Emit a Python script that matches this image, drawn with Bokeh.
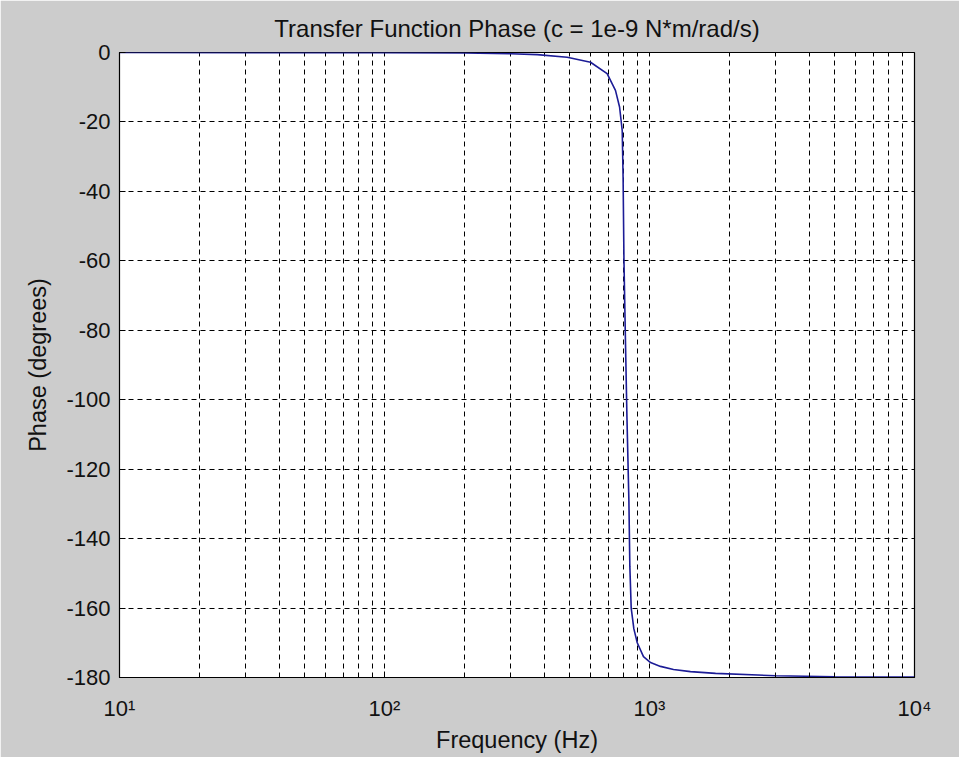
from bokeh.plotting import figure
from bokeh.models import Range1d, FixedTicker
from bokeh.embed import file_html
from bokeh.resources import INLINE

# --- data ---
freq_hz = [10, 100, 200, 300, 377, 489, 599, 692, 744, 771, 789, 795, 801, 810,
           822, 836, 843, 853, 873, 899, 949, 1009, 1100, 1232, 1428, 1775, 2990,
           5000, 10000]
phase_deg = [0, -0.05, -0.15, -0.35, -0.6, -1.35, -2.8, -6.1, -10.9, -15.7, -22.5,
             -36, -60, -80, -105, -129, -148, -160, -166, -170, -174, -175.7,
             -176.8, -177.7, -178.3, -178.8, -179.5, -179.8, -179.9]

x_major_ticks = [10, 100, 1000, 10000]
x_tick_labels = ["10\u00b9", "10\u00b2", "10\u00b3", "10\u2074"]
x_minor_ticks = [20, 30, 40, 50, 60, 70, 80, 90,
                 200, 300, 400, 500, 600, 700, 800, 900,
                 2000, 3000, 4000, 5000, 6000, 7000, 8000, 9000]
y_ticks = [-180, -160, -140, -120, -100, -80, -60, -40, -20, 0]
y_tick_labels = ["-180", "-160", "-140", "-120", "-100", "-80", "-60", "-40", "-20", "0"]

title_text = "Transfer Function Phase (c = 1e-9 N*m/rad/s)"
x_label = "Frequency (Hz)"
y_label = "Phase (degrees)"

FONT = "Liberation Sans"
GRAY = "#cccccc"
INK = "#111111"

p = figure(width=959, height=757, x_axis_type="log",
           x_range=Range1d(10, 10000), y_range=Range1d(-180, 0),
           output_backend="svg", toolbar_location=None,
           min_border_left=119, min_border_right=45,
           min_border_top=52, min_border_bottom=80,
           background_fill_color="white", border_fill_color=GRAY)

p.title.text = title_text
p.title.text_font = FONT
p.title.text_font_size = "24px"
p.title.text_font_style = "normal"
p.title.text_color = INK
p.title.align = "center"
p.title.standoff = 21

p.outline_line_color = "black"
p.outline_line_width = 1.2
p.outline_line_alpha = 1.0

# axes
p.xaxis.ticker = FixedTicker(ticks=x_major_ticks, minor_ticks=x_minor_ticks)
p.yaxis.ticker = FixedTicker(ticks=y_ticks)
for ax in (p.xaxis[0], p.yaxis[0]):
    ax.axis_line_color = "black"
    ax.major_tick_in = 6
    ax.major_tick_out = 0
    ax.major_tick_line_color = "black"
    ax.minor_tick_in = 3
    ax.minor_tick_out = 0
    ax.axis_label_text_font = FONT
    ax.axis_label_text_font_size = "23.5px"
    ax.axis_label_text_font_style = "normal"
    ax.axis_label_text_color = INK
    ax.major_label_text_font = FONT
    ax.major_label_text_font_size = "22px"
    ax.major_label_text_color = INK
p.yaxis.minor_tick_line_color = None
p.yaxis.major_label_overrides = {t: s for t, s in zip(y_ticks, y_tick_labels)}
p.yaxis.major_label_standoff = 9
p.yaxis.axis_label = y_label
p.yaxis.axis_label_standoff = 12

p.xaxis.major_label_overrides = {t: s for t, s in zip(x_major_ticks, x_tick_labels)}
p.xaxis.major_label_standoff = 18
p.xaxis.axis_label = x_label
p.xaxis.axis_label_standoff = 3

# grid
p.xgrid.grid_line_color = "black"
p.xgrid.grid_line_dash = "5 4"
p.xgrid.grid_line_width = 1
p.xgrid.minor_grid_line_color = "black"
p.xgrid.minor_grid_line_dash = "5 4"
p.xgrid.minor_grid_line_width = 1
p.ygrid.grid_line_color = "black"
p.ygrid.grid_line_dash = "5 4"
p.ygrid.grid_line_width = 1

p.line(freq_hz, phase_deg, line_color="#1c1c96", line_width=1.6)

open("out.html", "w").write(file_html(p, INLINE))
